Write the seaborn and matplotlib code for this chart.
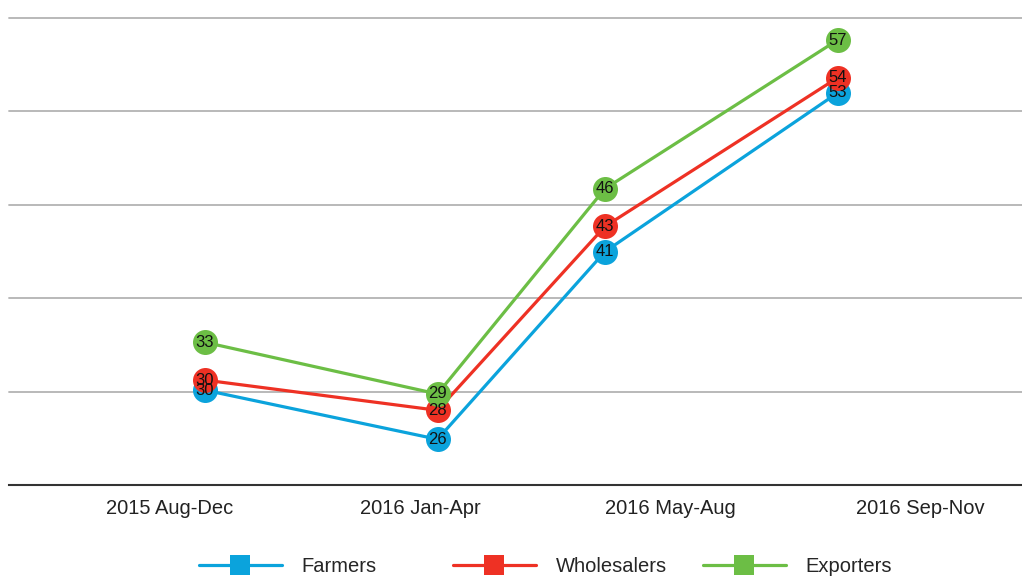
import numpy as np
import pandas as pd
import matplotlib.pyplot as plt
from matplotlib.lines import Line2D
import seaborn as sns

periods = ["2015 Aug-Dec", "2016 Jan-Apr", "2016 May-Aug", "2016 Sep-Nov"]
# survey rounds sit unevenly inside the period axis
survey_x = [0.14, 1.07, 1.74, 2.67]
# values estimated from the point heights, labels show them rounded
farmers = [29.6, 25.7, 40.6, 53.2]
wholesalers = [30.4, 28.0, 42.6, 54.4]
exporters = [33.4, 29.3, 45.6, 57.4]

SERIES = ["Farmers", "Wholesalers", "Exporters"]
COLORS = {"Farmers": "#0BA3DC", "Wholesalers": "#EE3124", "Exporters": "#6CBE45"}

df = pd.DataFrame({
    "x": survey_x * 3,
    "value": farmers + wholesalers + exporters,
    "series": [s for s in SERIES for _ in survey_x],
})

sns.set_theme(style="white")
plt.rcParams["font.family"] = ["Liberation Sans", "DejaVu Sans"]

fig = plt.figure(figsize=(10.22, 5.76), dpi=100)
ax = fig.add_axes([9 / 1022, 91 / 576, 1013 / 1022, 467 / 576])

sns.lineplot(
    data=df, x="x", y="value", hue="series", hue_order=SERIES,
    palette=COLORS, marker="o", markersize=18, markeredgewidth=0,
    linewidth=2.3, sort=False, legend=False, ax=ax,
)

# value labels in the circles
for _, row in df.iterrows():
    ax.text(row["x"], row["value"], f"{row['value']:.0f}", ha="center",
            va="center", fontsize=12, color="#111111", zorder=5)

ymin, ymax = 22.07, 59.15
ax.set_ylim(ymin, ymax)
ax.set_yticks(np.linspace(ymin, ymax, 6))
ax.set_yticklabels([])
ax.yaxis.grid(True, color="#b3b3b3", linewidth=1.3)
ax.set_axisbelow(True)
for gl in ax.get_ygridlines():
    gl.set_clip_on(False)

ax.set_xlim(-0.644, 3.408)
ax.set_xticks(range(len(periods)))
ax.set_xticklabels(periods, fontsize=14.5, color="#222222")
ax.tick_params(axis="both", length=0)
ax.tick_params(axis="x", pad=10)
ax.set_xlabel("")
ax.set_ylabel("")

for side in ["top", "left", "right"]:
    ax.spines[side].set_visible(False)
ax.spines["bottom"].set_color("#333333")
ax.spines["bottom"].set_linewidth(1.5)

# legend entries sit in equal-width slots, so one small legend per series
slot_left = [199 / 1022, 453 / 1022, 703 / 1022]
for s, x0 in zip(SERIES, slot_left):
    h = Line2D([], [], color=COLORS[s], linewidth=2.3, marker="s",
               markersize=15, markeredgewidth=0)
    leg = fig.legend([h], [s], loc="center left", bbox_to_anchor=(x0, 9 / 576),
                     frameon=False, fontsize=14.5, handlelength=4.1,
                     handletextpad=1.0, borderpad=0, borderaxespad=0)

fig.savefig("out.png", dpi=100)
